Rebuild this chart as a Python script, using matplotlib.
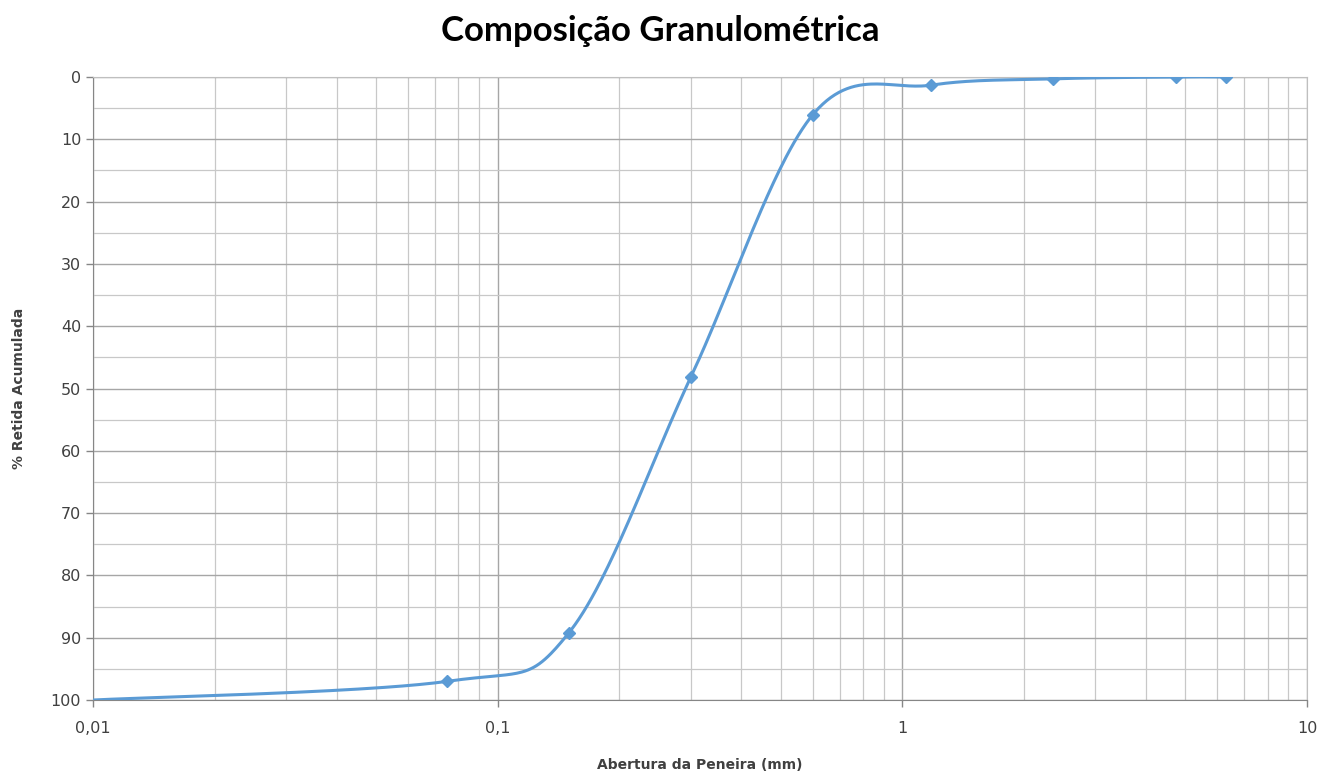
import numpy as np
import matplotlib.pyplot as plt
from matplotlib.ticker import FixedLocator, LogLocator, NullFormatter, MultipleLocator

# sieve openings (mm) and cumulative retained (%)
aberturas = [0.01, 0.075, 0.15, 0.3, 0.6, 1.18, 2.36, 4.75, 6.3]
retida = [100, 97.0, 89.2, 48.2, 6.1, 1.3, 0.3, 0.0, 0.0]
xticks = [0.01, 0.1, 1, 10]
xlabels = ['0,01', '0,1', '1', '10']


def excel_smooth(px, py, n=60):
    # Bezier smoothing like Excel's "smoothed line" (tension 1/6)
    P = np.column_stack([px, py])
    out = []
    for i in range(len(P) - 1):
        p0 = P[i - 1] if i > 0 else P[i]
        p1 = P[i]
        p2 = P[i + 1]
        p3 = P[i + 2] if i + 2 < len(P) else P[i + 1]
        c1 = p1 + (p2 - p0) / 6
        c2 = p2 - (p3 - p1) / 6
        t = np.linspace(0, 1, n)[:, None]
        seg = (1 - t) ** 3 * p1 + 3 * (1 - t) ** 2 * t * c1 + 3 * (1 - t) * t ** 2 * c2 + t ** 3 * p2
        out.append(seg if i == 0 else seg[1:])
    out = np.vstack(out)
    return out[:, 0], out[:, 1]


lx, ly = excel_smooth(np.log10(aberturas), np.array(retida, dtype=float))

fig = plt.figure(figsize=(13.21, 7.73), dpi=100)
ax = fig.add_axes([0.0704, 0.0944, 0.919, 0.806])

blue = '#5B9BD5'
ax.plot(10 ** lx, ly, color=blue, lw=2.2, zorder=3)
ax.plot(aberturas[1:], retida[1:], ls='none', marker='D', ms=6, color=blue, zorder=4)

ax.set_xscale('log')
ax.set_xlim(0.01, 10)
ax.set_ylim(100, 0)

ax.xaxis.set_major_locator(FixedLocator(xticks))
ax.set_xticklabels(xlabels)
ax.xaxis.set_minor_locator(LogLocator(base=10, subs=np.arange(2, 10)))
ax.xaxis.set_minor_formatter(NullFormatter())
ax.yaxis.set_major_locator(MultipleLocator(10))
ax.yaxis.set_minor_locator(MultipleLocator(5))

ax.grid(which='major', color='#A6A6A6', lw=1.0)
ax.grid(which='minor', color='#C8C8C8', lw=0.9)
ax.set_axisbelow(True)

for s in ax.spines.values():
    s.set_color('#BFBFBF')
ax.spines['left'].set_color('#868686')
ax.spines['bottom'].set_color('#868686')

ax.tick_params(axis='both', which='major', labelsize=11.5, colors='#868686', labelcolor='#404040', length=5, width=1)
ax.tick_params(axis='x', which='minor', length=0)
ax.tick_params(axis='y', which='minor', length=0)
ax.tick_params(axis='x', pad=10)

for lab in ax.get_xticklabels() + ax.get_yticklabels():
    lab.set_family('DejaVu Sans')

ax.set_xlabel('Abertura da Peneira (mm)', fontsize=10, fontweight='bold', color='#404040', labelpad=16)
ax.set_ylabel('% Retida Acumulada', fontsize=10, fontweight='bold', color='#404040', labelpad=18)
fig.text(0.5, 0.96, 'Composição Granulométrica', fontsize=25, fontweight='bold', family='Lato',
         ha='center', va='center')

fig.savefig('out.png', dpi=100)
